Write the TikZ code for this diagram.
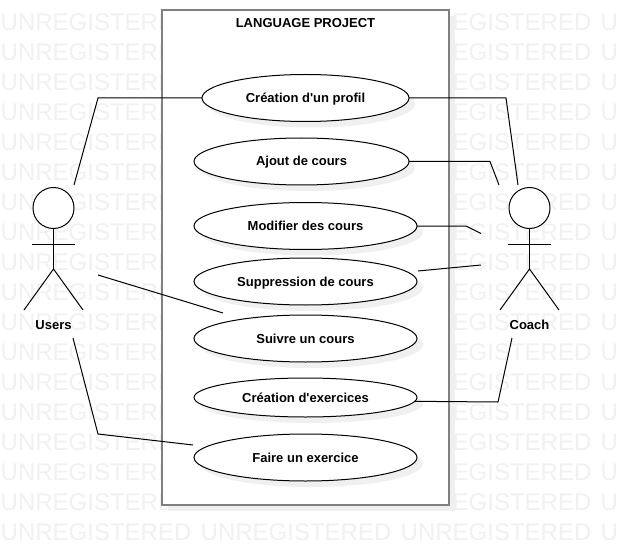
\documentclass[tikz,border=0pt]{standalone}
\usepackage{fontspec}
\setmainfont{Liberation Sans}
\usetikzlibrary{shapes.geometric,shadows}
\definecolor{framegray}{RGB}{128,128,128}
\definecolor{shadowgray}{RGB}{240,240,240}
\definecolor{markgray}{RGB}{241,241,241}
\tikzset{
  link/.style={line width=1pt, draw=black},
  usecase/.style={ellipse, draw=black, line width=1pt, fill=white, inner sep=0pt, outer sep=0pt,
    font=\bfseries\fontsize{13}{15}\selectfont, text height=9.5pt, text depth=0.5pt,
    minimum width=223pt, minimum height=47pt,
    drop shadow={shadow xshift=6pt, shadow yshift=-6pt, fill=shadowgray, opacity=1}},
  frame-box/.style={draw=framegray, line width=2.2pt, fill=white,
    drop shadow={shadow xshift=6pt, shadow yshift=-6pt, fill=shadowgray, opacity=1}},
  actor-head/.style={circle, draw=black, line width=1pt, fill=white, minimum size=41pt, inner sep=0pt, outer sep=0pt},
  label-bold/.style={font=\bfseries\fontsize{13}{15}\selectfont, inner sep=0pt},
  watermark/.style={font=\fontsize{24}{26}\selectfont, text=markgray, anchor=west, inner sep=0pt}
}
\newcommand{\stickman}[2]{
  \node[actor-head] (#1-head) at (#2,208) {};
  \coordinate (#1-hip) at (#2,269);
  \draw[link] (#1-head) -- (#1-hip);
  \draw[link] (#2-21.5,244) -- (#2+21.5,244);
  \draw[link] (#2-29.5,310) -- (#1-hip) -- (#2+29.5,310);
}
\begin{document}
\begin{tikzpicture}[x=1pt,y=-1pt]
  \useasboundingbox (0,0) rectangle (617,545);
  \fill[white] (0,0) rectangle (617,545);
  % watermark rows
  \foreach \y in {22.5,52.5,...,533}
    \foreach \x in {0.5,200.5,400.5,600.5}
      \node[watermark] (mark-\x-\y) at (\x,\y) {UNREGISTERED};
  % system frame
  \node[frame-box, minimum width=287pt, minimum height=495pt, inner sep=0pt] (system) at (305.5,257.5) {};
  \node[label-bold] (title) at (305.5,23) {LANGUAGE PROJECT};
  % use cases
  \node[usecase, minimum width=207pt] (profil) at (305.5,98) {Création d\textquotesingle un profil};
  \node[usecase, minimum width=215pt] (ajout) at (301.5,161.5) {Ajout de cours};
  \node[usecase] (modifier) at (305.5,226) {Modifier des cours};
  \node[usecase] (suppression) at (305.5,281.5) {Suppression de cours};
  \node[usecase] (suivre) at (305.5,338.5) {Suivre un cours};
  \node[usecase, minimum height=39pt] (exercices) at (305.5,397.5) {Création d\textquotesingle exercices};
  \node[usecase] (faire) at (305.5,457.5) {Faire un exercice};
  % actors
  \stickman{users}{53.5}
  \stickman{coach}{529.5}
  \node[label-bold] (users-name) at (53.5,324.7) {Users};
  \node[label-bold] (coach-name) at (529.5,324.7) {Coach};
  % free ends and bends of the connectors
  \coordinate (u1) at (74,185);
  \coordinate (u1b) at (98,98);
  \coordinate (u2) at (98,275);
  \coordinate (u2e) at (223,313);
  \coordinate (u3) at (73,338);
  \coordinate (u3b) at (98,434);
  \coordinate (u3e) at (193,445);
  \coordinate (c1) at (518,185);
  \coordinate (c1b) at (506,98);
  \coordinate (c2) at (499,185);
  \coordinate (c2b) at (490,161.5);
  \coordinate (c3) at (481,233.5);
  \coordinate (c3b) at (466,226);
  \coordinate (c4) at (481,265);
  \coordinate (c4s) at (418,271);
  \coordinate (c5) at (512,338);
  \coordinate (c5b) at (498,402);
  % connectors
  \draw[link] (u1) -- (u1b) -- (profil.west);
  \draw[link] (u2) -- (u2e);
  \draw[link] (u3) -- (u3b) -- (u3e);
  \draw[link] (profil.east) -- (c1b) -- (c1);
  \draw[link] (ajout.east) -- (c2b) -- (c2);
  \draw[link] (modifier.east) -- (c3b) -- (c3);
  \draw[link] (c4s) -- (c4);
  \draw[link] (exercices.358.7) -- (c5b) -- (c5);
\end{tikzpicture}
\end{document}
